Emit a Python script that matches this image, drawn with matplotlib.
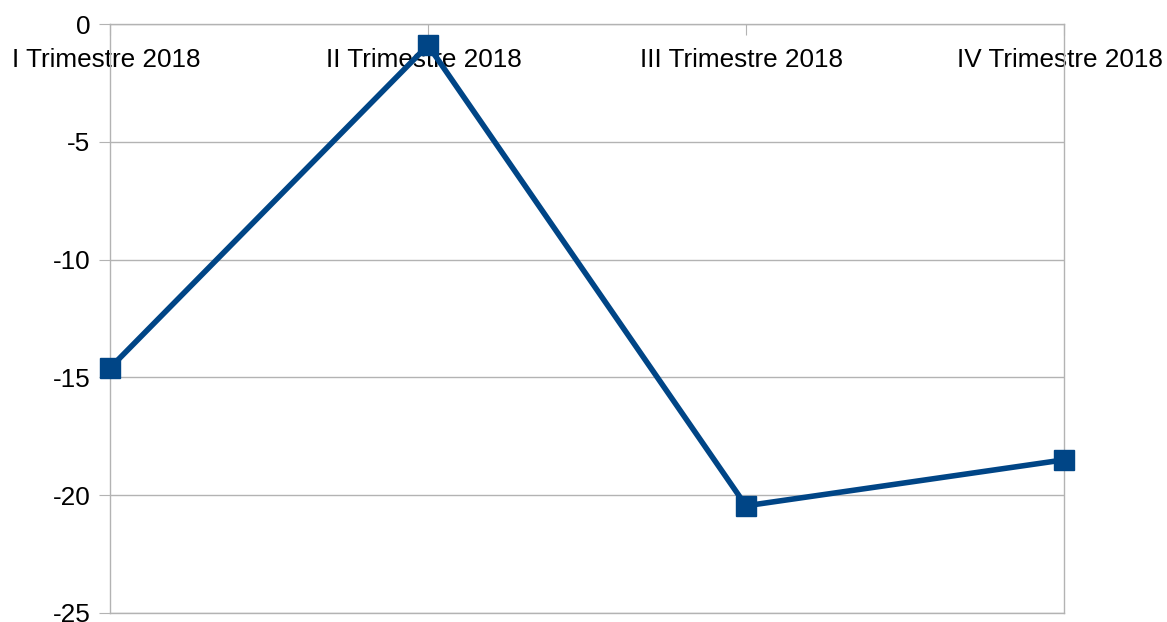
import matplotlib
matplotlib.use("Agg")
import matplotlib.pyplot as plt
import matplotlib.transforms as mtransforms

categories = ["I Trimestre 2018", "II Trimestre 2018", "III Trimestre 2018", "IV Trimestre 2018"]
values = [-14.6, -0.9, -20.45, -18.5]
yticks = [0, -5, -10, -15, -20, -25]

plt.rcParams['font.family'] = ['Liberation Sans', 'DejaVu Sans']

W, H = 1167, 622
fig = plt.figure(figsize=(W / 100, H / 100), dpi=100)
ax = fig.add_axes([110 / W, 1 - 613 / H, (1064 - 110) / W, (613 - 24) / H])

grid_c = "#b3b3b3"
x = list(range(len(categories)))
ax.plot(x, values, color="#004586", linewidth=4.0, marker="s", markersize=14,
        clip_on=False, zorder=5)

ax.set_xlim(0, len(categories) - 1)
ax.set_ylim(-25, 0)
ax.set_yticks(yticks)
ax.set_yticklabels([str(v) for v in yticks])
ax.yaxis.grid(True, color=grid_c, linewidth=1)
ax.set_axisbelow(True)

ax.xaxis.tick_top()
ax.set_xticks(x)
ax.set_xticklabels(categories)
ax.tick_params(axis='x', direction='in', length=8, color=grid_c, labelsize=18.8, pad=-17)
shift = mtransforms.ScaledTranslation(-4 / 100, 0, fig.dpi_scale_trans)
for lbl in ax.get_xticklabels():
    lbl.set_va('top')
    lbl.set_transform(lbl.get_transform() + shift)
ax.tick_params(axis='y', direction='out', length=8, color=grid_c, labelsize=18.8, pad=6)

for s in ax.spines.values():
    s.set_color(grid_c)
    s.set_linewidth(1)

fig.savefig("out.png", dpi=100)
